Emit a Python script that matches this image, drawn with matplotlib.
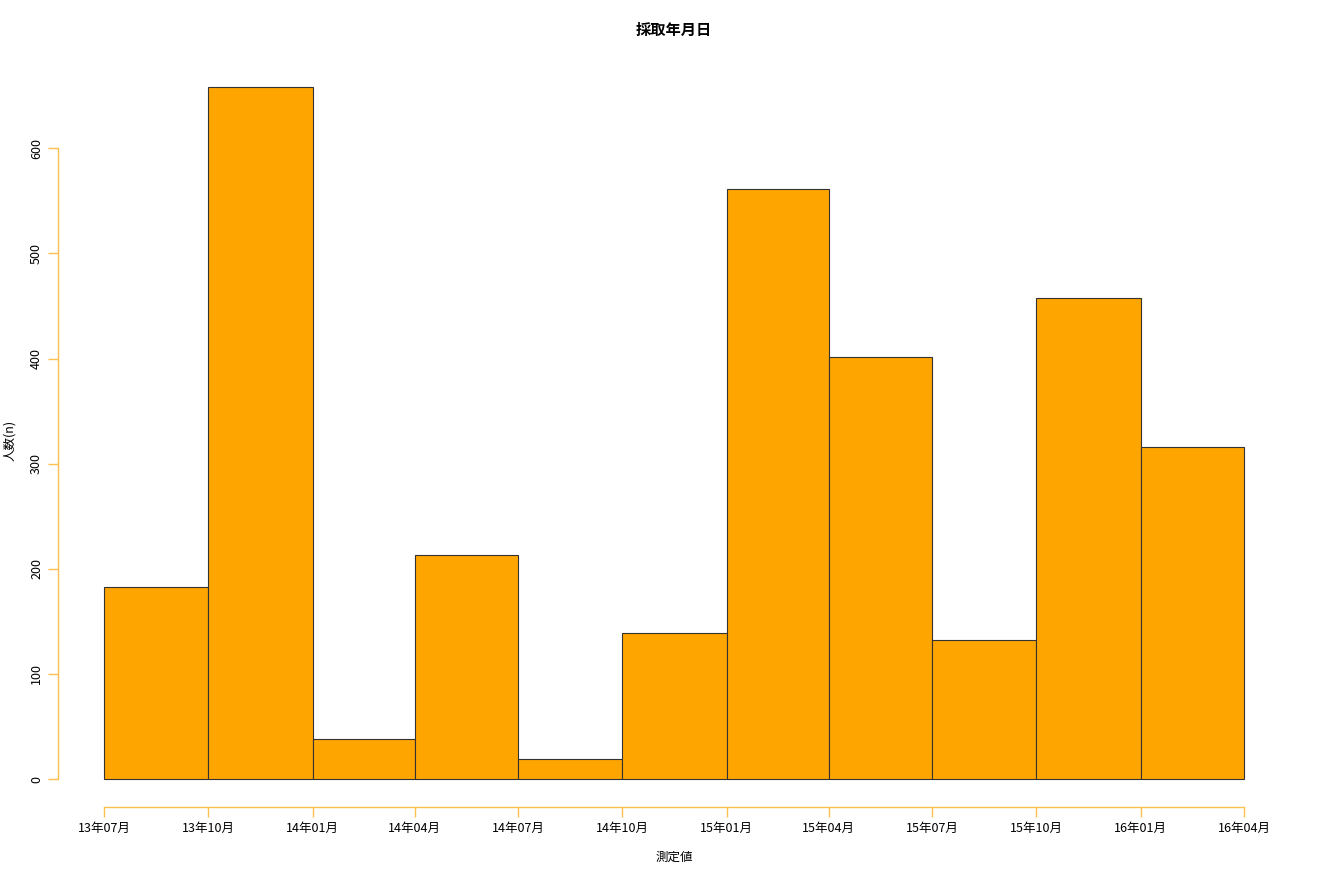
import numpy as np
import matplotlib.pyplot as plt
import matplotlib.dates as mdates
from datetime import date

plt.rcParams['font.family'] = ['Noto Sans CJK JP', 'DejaVu Sans']

# Data: histogram bins (quarterly) and counts
BIN_EDGES = ["2013-07-01", "2013-10-01", "2014-01-01", "2014-04-01",
             "2014-07-01", "2014-10-01", "2015-01-01", "2015-04-01",
             "2015-07-01", "2015-10-01", "2016-01-01", "2016-04-01"]
COUNTS = [183, 658, 38, 213, 19, 139, 561, 401, 132, 458, 316]
TICK_LABELS = ["13年07月", "13年10月", "14年01月", "14年04月", "14年07月",
               "14年10月", "15年01月", "15年04月", "15年07月", "15年10月",
               "16年01月", "16年04月"]

TITLE = "採取年月日"
XLABEL = "測定値"
YLABEL = "人数(n)"

W, H = 1320, 880
fig = plt.figure(figsize=(W / 100, H / 100), dpi=100)

left, right = 58.4, 1289.6
top, bottom = 59.6, 806.7
ax = fig.add_axes([left / W, 1 - bottom / H, (right - left) / W, (bottom - top) / H])

edges = mdates.date2num([date.fromisoformat(d) for d in BIN_EDGES])
widths = np.diff(edges)
ax.bar(edges[:-1], COUNTS, width=widths, align="edge",
       color="#FFA500", edgecolor="#333333", linewidth=0.8)

# R-style 4% padding
span = edges[-1] - edges[0]
ax.set_xlim(edges[0] - 0.04 * span, edges[-1] + 0.04 * span)
ymax = max(COUNTS)
ax.set_ylim(-0.04 * ymax, ymax * 1.04)

ax.set_xticks(edges)
ax.set_xticklabels(TICK_LABELS, fontsize=9)
yt = np.arange(0, 601, 100)
ax.set_yticks(yt)
ax.set_yticklabels([str(v) for v in yt], fontsize=9, rotation=90, va="center")

for s in ["top", "right"]:
    ax.spines[s].set_visible(False)
ax.spines["left"].set_bounds(0, 600)
ax.spines["bottom"].set_bounds(edges[0], edges[-1])
for s in ["left", "bottom"]:
    ax.spines[s].set_color("#FFC04D")
    ax.spines[s].set_linewidth(1.0)
ax.tick_params(axis="both", colors="#FFC04D", labelcolor="black",
               length=7, width=1.0, pad=4)

fig.text((left + right) / 2 / W, 1 - 30 / H, TITLE, ha="center", va="center",
         fontsize=11, fontweight="bold")
fig.text((left + right) / 2 / W, 1 - 857 / H, XLABEL, ha="center", va="center",
         fontsize=9)
fig.text(10 / W, 1 - 440 / H, YLABEL, ha="center", va="center",
         fontsize=9, rotation=90)

fig.savefig("out.png", dpi=100)
